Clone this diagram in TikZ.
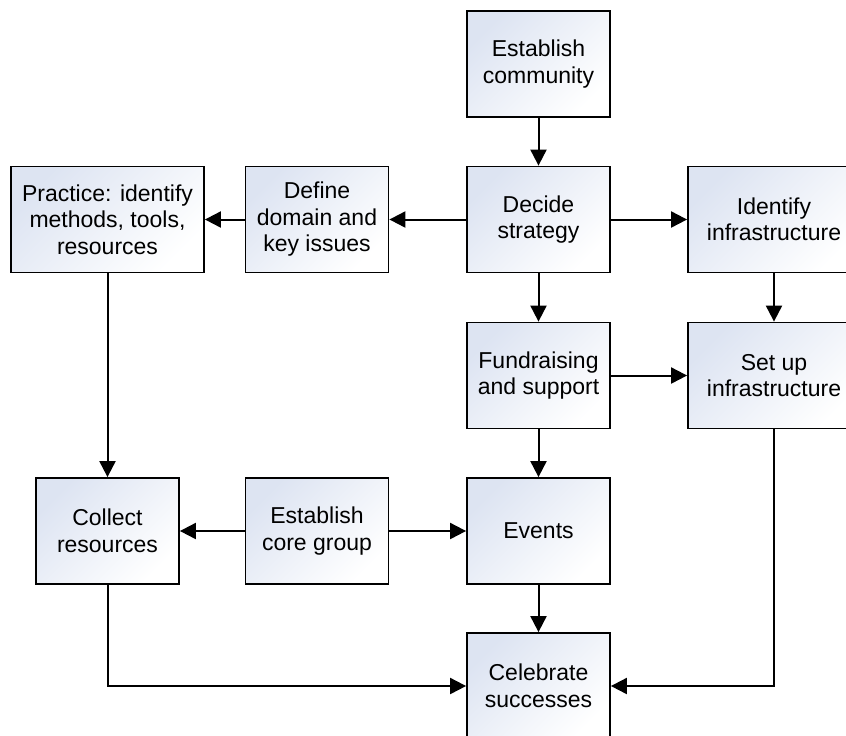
\documentclass[tikz,border=0pt]{standalone}
\usepackage{fontspec}
\setmainfont{Liberation Sans}
\usetikzlibrary{arrows.meta}
\definecolor{boxshade}{RGB}{221,228,242}

\begin{document}
\begin{tikzpicture}[x=0.5pt, y=-0.5pt, >={Triangle[length=8pt,width=8pt]},
  stepbox/.style={draw, line width=0.9pt, top color=boxshade, bottom color=white,
    shading angle=45, minimum width=71.5pt, minimum height=53pt, align=center,
    inner sep=2pt, font=\fontsize{11.5}{13.25}\selectfont},
  flow/.style={->, line width=1pt}]
  % Page frame
  \path[use as bounding box, clip] (0,0) rectangle (846,735);

  % Top and strategy row
  \node[stepbox] (community) at (538.5,64) {Establish\\community};
  \node[stepbox] (decide) at (538.5,219.5) {Decide\\strategy};
  \node[stepbox] (define) at (317,219.5) {Define\\domain and\\key issues};
  \node[stepbox, minimum width=96.5pt] (practice) at (107.5,219.5) {Practice: identify\\methods, tools,\\resources};
  \node[stepbox, minimum width=86pt] (identify) at (774,219.5) {Identify\\infrastructure};

  % Support row
  \node[stepbox] (fundraising) at (538.5,375.5) {Fundraising\\and support};
  \node[stepbox, minimum width=86pt] (setup) at (774,375.5) {Set up\\infrastructure};

  % Group row
  \node[stepbox] (collect) at (107.5,531) {Collect\\resources};
  \node[stepbox] (core) at (317,531) {Establish\\core group};
  \node[stepbox] (events) at (538.5,531) {Events};

  % Final step
  \node[stepbox] (celebrate) at (538.5,686) {Celebrate\\successes};

  % Connectors
  \draw[flow] (community) -- (decide);
  \draw[flow] (decide) -- (define);
  \draw[flow] (define) -- (practice);
  \draw[flow] (decide) -- (identify);
  \draw[flow] (decide) -- (fundraising);
  \draw[flow] (identify) -- (setup);
  \draw[flow] (fundraising) -- (setup);
  \draw[flow] (practice) -- (collect);
  \draw[flow] (fundraising) -- (events);
  \draw[flow] (core) -- (collect);
  \draw[flow] (core) -- (events);
  \draw[flow] (events) -- (celebrate);
  \draw[flow] (collect) |- (celebrate);
  \draw[flow] (setup) |- (celebrate);
\end{tikzpicture}
\end{document}
